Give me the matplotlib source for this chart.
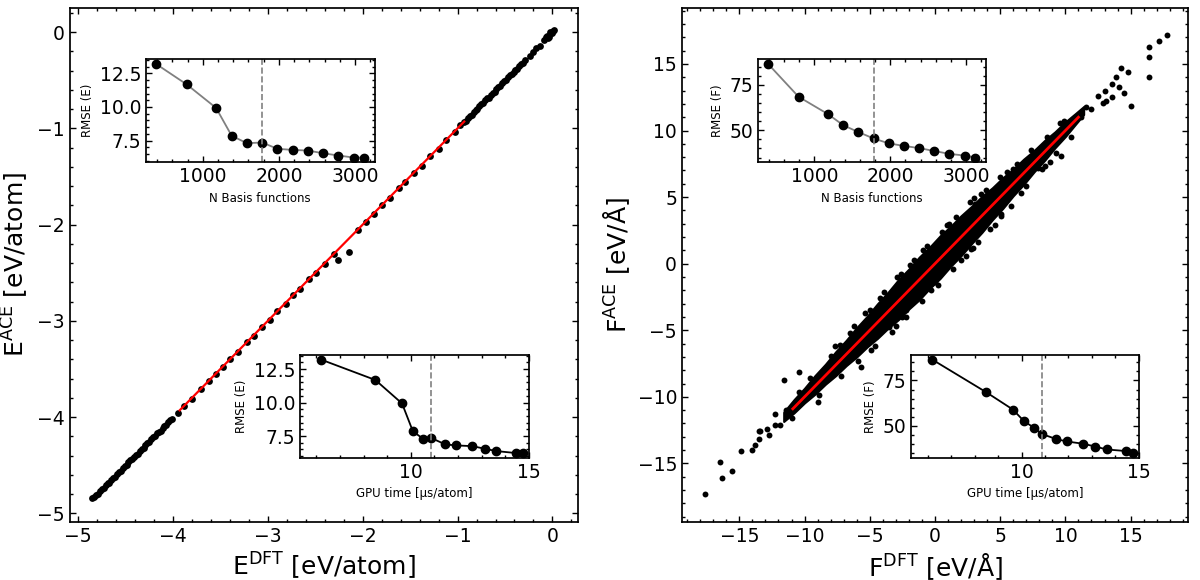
import matplotlib
matplotlib.use("Agg")
import matplotlib.pyplot as plt
from matplotlib.ticker import MultipleLocator, AutoMinorLocator

# ---- inset data ----
n_basis = [390, 790, 1175, 1380, 1580, 1780, 1980, 2180, 2380, 2580, 2780, 2980, 3120]
gpu_time = [6.2, 8.5, 9.63, 10.09, 10.52, 10.87, 11.46, 11.92, 12.6, 13.15, 13.62, 14.47, 14.74]
rmse_e = [13.2, 11.68, 9.93, 7.85, 7.3, 7.35, 6.88, 6.8, 6.75, 6.55, 6.38, 6.23, 6.23]
rmse_f = [86.5, 68.5, 59.0, 52.8, 49.0, 45.5, 42.8, 41.4, 40.2, 38.6, 37.0, 36.1, 35.0]
chosen = 5  # index of the selected model (dashed line)

# ---- energy parity data ----
e_dft = [-4.85, -4.83, -4.81, -4.79, -4.77, -4.75, -4.73, -4.71, -4.69, -4.67, -4.65,
         -4.63, -4.61, -4.59, -4.57, -4.55, -4.53, -4.51, -4.49, -4.47, -4.45, -4.43,
         -4.41, -4.39, -4.37, -4.35, -4.33, -4.31, -4.29, -4.27, -4.25, -4.23, -4.21,
         -4.19, -4.17, -4.15, -4.13, -4.11, -4.09, -4.07, -4.05, -4.03, -4.01,
         -3.95, -3.88, -3.80, -3.71, -3.62, -3.55, -3.47, -3.40, -3.31, -3.22, -3.15,
         -3.06, -2.98, -2.90, -2.81, -2.73, -2.66, -2.57, -2.49, -2.40, -2.30, -2.26,
         -2.14, -2.05, -1.97, -1.88, -1.80, -1.71, -1.62, -1.55, -1.46, -1.38, -1.29,
         -1.20, -1.12, -1.03, -0.97,
         -0.93, -0.91, -0.89, -0.87, -0.85, -0.83, -0.81, -0.79, -0.77, -0.75, -0.73,
         -0.71, -0.69, -0.67, -0.65, -0.63, -0.61, -0.59, -0.57, -0.55, -0.53, -0.51,
         -0.49, -0.47, -0.45, -0.43, -0.41, -0.39, -0.37, -0.35, -0.33, -0.31, -0.29,
         -0.24, -0.20, -0.17, -0.13, -0.09, -0.07, -0.06, -0.04, -0.02, 0.0, 0.01, 0.02,
         -0.03, -0.05]
e_ace = [-4.84, -4.83, -4.81, -4.80, -4.77, -4.75, -4.74, -4.71, -4.69, -4.68, -4.65,
         -4.63, -4.62, -4.59, -4.57, -4.56, -4.53, -4.51, -4.50, -4.47, -4.45, -4.44,
         -4.41, -4.39, -4.38, -4.35, -4.33, -4.32, -4.29, -4.27, -4.26, -4.23, -4.21,
         -4.20, -4.17, -4.15, -4.14, -4.11, -4.09, -4.08, -4.05, -4.03, -4.02,
         -3.96, -3.88, -3.81, -3.71, -3.63, -3.55, -3.48, -3.40, -3.32, -3.22, -3.16,
         -3.06, -2.99, -2.90, -2.82, -2.73, -2.67, -2.57, -2.50, -2.41, -2.31, -2.37,
         -2.28, -2.06, -1.97, -1.89, -1.80, -1.72, -1.62, -1.56, -1.46, -1.39, -1.29,
         -1.21, -1.12, -1.04, -0.97,
         -0.93, -0.92, -0.89, -0.87, -0.86, -0.83, -0.81, -0.80, -0.77, -0.75, -0.74,
         -0.71, -0.69, -0.68, -0.65, -0.63, -0.62, -0.59, -0.57, -0.56, -0.53, -0.51,
         -0.50, -0.47, -0.45, -0.44, -0.41, -0.39, -0.38, -0.35, -0.33, -0.32, -0.29,
         -0.25, -0.21, -0.17, -0.14, -0.08, -0.05, -0.04, -0.05, -0.01, -0.01, 0.01, 0.02,
         0.0, -0.06]
e_fit = [-3.93, -0.93]

# ---- force parity data ----
# dense core of the force cloud: lower / upper edge along F_DFT
band_x = [-11.6, -10.8, -10.0, -9.2, -8.4, -7.6, -6.8, -6.0, -5.2, -4.4, -3.6, -2.8,
          -2.0, -1.2, -0.4, 0.4, 1.2, 2.0, 2.8, 3.6, 4.4, 5.2, 6.0, 6.8, 7.6, 8.4,
          9.2, 10.0, 10.8, 11.4]
band_lo = [-11.85, -11.2, -10.45, -9.8, -9.05, -8.4, -7.65, -7.0, -6.25, -5.6, -4.85,
           -4.2, -3.4, -2.7, -1.85, -1.1, -0.2, 0.6, 1.5, 2.35, 3.3, 4.15, 5.1, 5.95,
           6.9, 7.75, 8.7, 9.55, 10.5, 11.2]
band_hi = [-11.15, -10.2, -9.35, -8.4, -7.55, -6.6, -5.75, -4.8, -3.95, -3.0, -2.15,
           -1.2, -0.4, 0.5, 1.25, 2.1, 2.8, 3.6, 4.3, 5.05, 5.7, 6.45, 7.1, 7.85, 8.5,
           9.25, 9.9, 10.65, 11.3, 11.8]
# scattered points around the core
f_dft = [-17.6, -16.3, -15.6, -16.5, -14.9, -14.0, -13.8, -13.5, -13.4, -12.9, -12.7,
         -12.3, -11.9, -11.6, -10.4, -9.0, -5.7, -7.3, -3.5, -2.2, -1.2, 0.8, 2.8,
         -11.4, -12.3, -13.5,
         -9.6, -8.9, -8.0, -7.2, -6.5, -5.9, -5.0, -4.6, -3.9, -3.3, -2.6, -2.2, -1.6,
         -1.0, -0.6, 0.2, 0.5, 1.4, 1.6, 2.4, 2.7, 3.3, 3.9, 4.6, 5.0, 5.8, 6.3, 7.0,
         7.4, 8.2, 8.6, 9.3, 9.9, 10.4, -10.4, -11.0, -6.2, -4.2, -1.9, 0.9, 3.0, 5.5,
         -3.0, -0.3, 2.0, 4.2, 6.6, -7.7, -5.4, -2.9, -0.9, 1.1, 3.5, -4.9, -2.5, 0.0,
         2.9, 5.1,
         9.7, 8.8, 8.4, 7.9, 6.0, 3.1, 9.6, 5.1, 2.6,
         11.2, 11.6, 12.0, 12.5, 13.0, 13.1, 13.6, 13.9, 12.9, 13.6, 14.1, 14.5, 14.3,
         14.8, 16.4, 16.4, 16.4, 17.2, 17.8, 15.0]
f_ace = [-17.3, -16.1, -15.6, -14.9, -14.1, -14.0, -13.6, -13.2, -12.6, -12.4, -12.9,
         -12.1, -12.1, -8.75, -8.1, -10.4, -7.75, -6.1, -4.75, -3.5, 0.1, 2.25, 1.1,
         -11.0, -11.3, -12.6,
         -8.6, -9.9, -6.9, -8.4, -5.2, -7.3, -3.5, -6.2, -2.1, -5.1, -0.8, -4.0, 0.3,
         -2.8, 1.3, -1.6, 2.4, -0.4, 3.5, 0.6, 4.6, 1.6, 5.5, 2.9, 6.5, 4.3, 7.5, 5.8,
         8.5, 7.1, 9.5, 8.3, 10.7, 9.5, -9.6, -11.6, -4.7, -2.6, -0.1, 2.9, 4.9, 6.9,
         -4.7, -2.0, 0.3, 2.6, 5.3, -6.2, -3.7, -1.0, 1.0, 3.0, 5.2, -6.5, -4.0, -1.4,
         1.2, 3.6,
         8.1, 7.6, 7.3, 7.2, 7.1, 4.5, 10.6, 3.75, 3.4,
         11.0, 11.8, 11.6, 12.6, 13.0, 12.25, 13.5, 14.0, 12.1, 12.55, 13.3, 12.8, 14.7,
         14.4, 14.0, 15.5, 16.3, 16.7, 17.2, 11.85]
f_fit = [-10.9, 11.0]

label_size = 18
tick_size = 13.5
small_label = 8.5


def style_axis(ax, size):
    ax.minorticks_on()
    ax.tick_params(which="both", direction="in", top=True, right=True, width=1)
    ax.tick_params(which="major", length=4.5, labelsize=size)
    ax.tick_params(which="minor", length=2.2)
    for sp in ax.spines.values():
        sp.set_linewidth(1.25)


def add_insets(ax, rmse, ylab):
    top = ax.inset_axes([0.15, 0.70, 0.45, 0.20])
    top.plot(n_basis, rmse, color="gray", lw=1.3, marker="o", ms=6,
             mfc="black", mec="black")
    top.axvline(n_basis[chosen], color="gray", ls="--", lw=1.2)
    top.set_xlabel("N Basis functions", fontsize=small_label)
    top.set_ylabel(ylab, fontsize=small_label)
    style_axis(top, tick_size)

    bot = ax.inset_axes([0.453, 0.125, 0.45, 0.20])
    bot.plot(gpu_time, rmse, color="black", lw=1.3, marker="o", ms=6)
    bot.axvline(gpu_time[chosen], color="gray", ls="--", lw=1.2)
    bot.set_xlim(5.3, 15.0)
    bot.xaxis.set_major_locator(MultipleLocator(5))
    bot.set_xlabel("GPU time [µs/atom]", fontsize=small_label)
    bot.set_ylabel(ylab, fontsize=small_label)
    style_axis(bot, tick_size)
    bot.xaxis.set_minor_locator(AutoMinorLocator(5))


fig = plt.figure(figsize=(12, 5.8), dpi=100)
ax1 = fig.add_axes([0.058, 0.10, 0.4237, 0.8862])
ax2 = fig.add_axes([0.5683, 0.10, 0.4217, 0.8862])

# energies
ax1.scatter(e_dft, e_ace, s=24, color="black", linewidths=0, zorder=2)
ax1.plot(e_fit, e_fit, color="red", lw=1.6, zorder=3)
ax1.set_xlim(-5.09, 0.27)
ax1.set_ylim(-5.09, 0.25)
ax1.set_xlabel(r"E$^{\mathrm{DFT}}$ [eV/atom]", fontsize=label_size)
ax1.set_ylabel(r"E$^{\mathrm{ACE}}$ [eV/atom]", fontsize=label_size)
style_axis(ax1, tick_size)
add_insets(ax1, rmse_e, "RMSE (E)")

# forces
ax2.fill_between(band_x, band_lo, band_hi, color="black", lw=1.5, edgecolor="black", zorder=2)
ax2.scatter(f_dft, f_ace, s=18, color="black", linewidths=0, zorder=2)
ax2.plot(f_fit, f_fit, color="red", lw=2.0, zorder=3)
ax2.set_xlim(-19.4, 19.4)
ax2.set_ylim(-19.4, 19.2)
ax2.set_xticks([-15, -10, -5, 0, 5, 10, 15])
ax2.set_yticks([-15, -10, -5, 0, 5, 10, 15])
ax2.set_xlabel(r"F$^{\mathrm{DFT}}$ [eV/Å]", fontsize=label_size)
ax2.set_ylabel(r"F$^{\mathrm{ACE}}$ [eV/Å]", fontsize=label_size)
style_axis(ax2, tick_size)
add_insets(ax2, rmse_f, "RMSE (F)")

fig.savefig("out.png", dpi=100)
